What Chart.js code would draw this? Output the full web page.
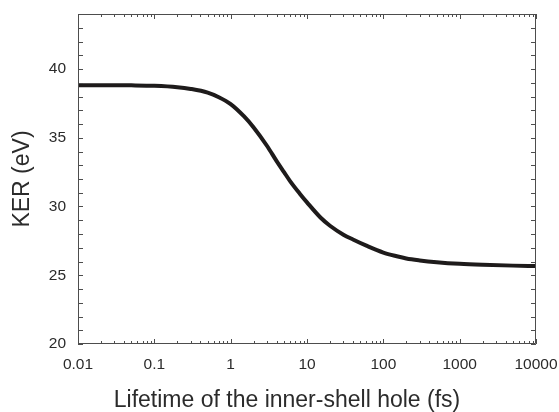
<!DOCTYPE html>
<html>
<head>
<meta charset="utf-8">
<title>KER vs lifetime</title>
<script src="https://cdn.jsdelivr.net/npm/chart.js@4/dist/chart.umd.min.js"></script>
<style>
  html, body { margin: 0; padding: 0; background: #fff; }
  #kerChart { display: block; }
</style>
</head>
<body>
<canvas id="kerChart" width="559" height="412"></canvas>
<script>
// lifetime of the inner-shell hole (fs) and kinetic energy release (eV)
const lifetime = [0.01, 0.02, 0.05, 0.1, 0.2, 0.3, 0.5, 0.7, 1, 1.5, 2, 3, 4, 5, 6, 8, 10,
  15, 20, 30, 40, 60, 100, 150, 200, 300, 500, 1000, 2000, 5000, 10000];
const ker = [38.82, 38.82, 38.81, 38.78, 38.68, 38.55, 38.28, 37.95, 37.45, 36.55, 35.75, 34.4,
  33.3, 32.5, 31.85, 30.95, 30.3, 29.2, 28.6, 27.95, 27.6, 27.15, 26.65, 26.38, 26.22, 26.08,
  25.95, 25.83, 25.76, 25.7, 25.67];

const xTicks = [0.01, 0.1, 1, 10, 100, 1000, 10000];
const xLabels = ['0.01', '0.1', '1', '10', '100', '1000', '10000'];
const yTicks = [20, 25, 30, 35, 40];
const yMin = 20, yMax = 44;
const xTitle = 'Lifetime of the inner-shell hole (fs)';

const fontFamily = '"Liberation Sans", Arial, Helvetica, sans-serif';
const textColor = '#2b2b2b';
const frameColor = '#4d4d4d';

const points = lifetime.map((t, i) => ({ x: t, y: ker[i] }));

// box around the plot with inward ticks on all four sides, plus the x title
// (sits a bit left of the plot centre)
const frameTicks = {
  id: 'frameTicks',
  afterDraw(chart) {
    const { ctx, chartArea: a, scales: { x, y } } = chart;
    ctx.save();
    ctx.strokeStyle = frameColor;
    ctx.lineWidth = 1;
    ctx.beginPath();
    ctx.rect(a.left + 0.5, a.top + 0.5, a.right - a.left - 1, a.bottom - a.top - 1);

    const xMark = (v, len) => {
      const px = Math.round(x.getPixelForValue(v)) + 0.5;
      ctx.moveTo(px, a.bottom);
      ctx.lineTo(px, a.bottom - len);
      ctx.moveTo(px, a.top);
      ctx.lineTo(px, a.top + len);
    };
    for (let d = 0; d < xTicks.length - 1; d++) {
      xMark(xTicks[d], 5);
      for (let m = 2; m <= 9; m++) xMark(xTicks[d] * m, 3);
    }
    xMark(xTicks[xTicks.length - 1], 5);

    for (let v = yMin; v <= yMax; v++) {
      const py = Math.round(y.getPixelForValue(v)) + 0.5;
      ctx.moveTo(a.left, py);
      ctx.lineTo(a.left + 5, py);
      ctx.moveTo(a.right, py);
      ctx.lineTo(a.right - 5, py);
    }
    ctx.stroke();

    ctx.fillStyle = textColor;
    ctx.font = '23px ' + fontFamily;
    ctx.textAlign = 'center';
    ctx.textBaseline = 'middle';
    ctx.fillText(xTitle, (a.left + a.right) / 2 - 20, chart.height - 11.5);
    ctx.restore();
  }
};

new Chart(document.getElementById('kerChart').getContext('2d'), {
  type: 'line',
  data: {
    datasets: [{
      data: points,
      borderColor: '#1e1b1b',
      borderWidth: 4,
      pointRadius: 0,
      fill: false,
      cubicInterpolationMode: 'monotone'
    }]
  },
  options: {
    responsive: false,
    animation: false,
    layout: { padding: { top: 14, right: 23, left: 0, bottom: 0 } },
    plugins: {
      legend: { display: false },
      tooltip: { enabled: false }
    },
    scales: {
      x: {
        type: 'logarithmic',
        min: 0.01,
        max: 10000,
        grid: { display: false, drawTicks: false },
        border: { display: false },
        afterBuildTicks: (scale) => { scale.ticks = xTicks.map(v => ({ value: v })); },
        afterFit: (scale) => {
          scale.height = 68;
          scale.paddingLeft = 0;
          scale.paddingRight = 0;
        },
        ticks: {
          autoSkip: false,
          maxRotation: 0,
          padding: 11,
          color: textColor,
          font: { family: fontFamily, size: 15.5 },
          callback: (v) => xLabels[xTicks.indexOf(v)] ?? ''
        }
      },
      y: {
        type: 'linear',
        min: yMin,
        max: yMax,
        grid: { display: false, drawTicks: false },
        border: { display: false },
        afterBuildTicks: (scale) => { scale.ticks = yTicks.map(v => ({ value: v })); },
        afterFit: (scale) => {
          scale.width = 78;
          scale.paddingTop = 0;
          scale.paddingBottom = 0;
        },
        ticks: {
          padding: 12,
          color: textColor,
          font: { family: fontFamily, size: 15.5 }
        },
        title: {
          display: true,
          text: 'KER (eV)',
          color: textColor,
          font: { family: fontFamily, size: 23, lineHeight: 1 },
          padding: { top: 11.5, bottom: 0 }
        }
      }
    }
  },
  plugins: [frameTicks]
});
</script>
</body>
</html>
